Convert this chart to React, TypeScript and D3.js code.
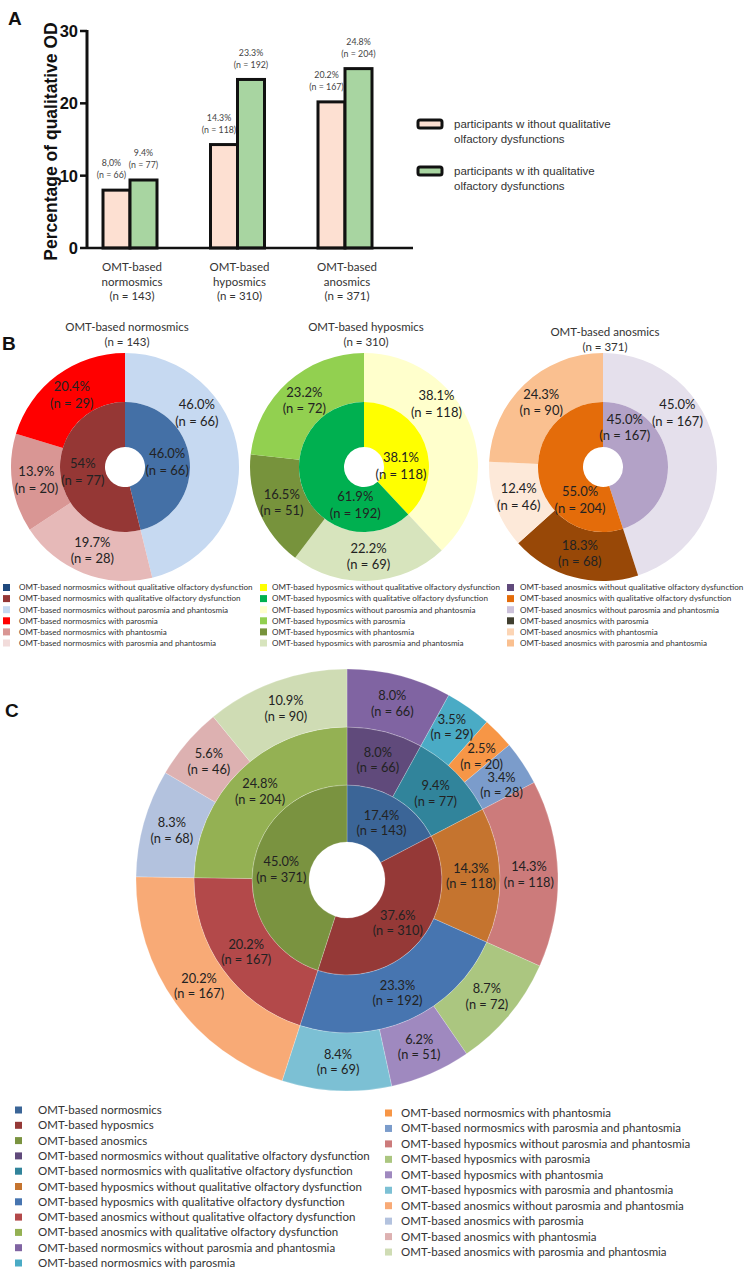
import React from "react";
import * as d3 from "d3";

// ---------------- Panel A data ----------------
const aCategories = ["normosmics", "hyposmics", "anosmics"];
const aCategoryLines = [
  ["OMT-based", "normosmics", "(n = 143)"],
  ["OMT-based", "hyposmics", "(n = 310)"],
  ["OMT-based", "anosmics", "(n = 371)"],
];
const aWithoutQual = [8.0, 14.3, 20.2];
const aWithQual = [9.4, 23.3, 24.8];
const aWithoutLabel = ["8,0%", "14.3%", "20.2%"];
const aWithLabel = ["9.4%", "23.3%", "24.8%"];
const aWithoutN = [66, 118, 167];
const aWithN = [77, 192, 204];
const aYTicks = [0, 10, 20, 30];
const aLegend = [
  ["participants w ithout qualitative", "olfactory dysfunctions"],
  ["participants w ith qualitative", "olfactory dysfunctions"],
];
const aColors = ["#fde0d2", "#a8d5a1"];

// ---------------- Panel B data ----------------
const bTitles = ["OMT-based normosmics", "OMT-based hyposmics", "OMT-based anosmics"];
const bTotals = [143, 310, 371];
const bInnerN = [[66, 77], [118, 192], [167, 204]];
const bInnerPct = [["46.0%", "54%"], ["38.1%", "61.9%"], ["45.0%", "55.0%"]];
const bInnerColors = [["#4470a6", "#953735"], ["#ffff00", "#00b050"], ["#b3a2c7", "#e46c0a"]];
const bOuterN = [[66, 28, 20, 29], [118, 69, 51, 72], [167, 68, 46, 90]];
const bOuterPct = [
  ["46.0%", "19.7%", "13.9%", "20.4%"],
  ["38.1%", "22.2%", "16.5%", "23.2%"],
  ["45.0%", "18.3%", "12.4%", "24.3%"],
];
const bOuterColors = [
  ["#c6d9f1", "#e6b9b8", "#d99694", "#ff0000"],
  ["#ffffcc", "#d7e4bd", "#77933c", "#92d050"],
  ["#e5e0ec", "#984807", "#fde9d9", "#fac090"],
];
const bLegendLabels = [
  [
    "OMT-based normosmics without qualitative olfactory dysfunction",
    "OMT-based normosmics with qualitative olfactory dysfunction",
    "OMT-based normosmics without parosmia and phantosmia",
    "OMT-based normosmics with parosmia",
    "OMT-based normosmics with phantosmia",
    "OMT-based normosmics with parosmia and phantosmia",
  ],
  [
    "OMT-based hyposmics without qualitative olfactory dysfunction",
    "OMT-based hyposmics with qualitative olfactory dysfunction",
    "OMT-based hyposmics without parosmia and phantosmia",
    "OMT-based hyposmics with parosmia",
    "OMT-based hyposmics with phantosmia",
    "OMT-based hyposmics with parosmia and phantosmia",
  ],
  [
    "OMT-based anosmics without qualitative olfactory dysfunction",
    "OMT-based anosmics with qualitative olfactory dysfunction",
    "OMT-based anosmics without parosmia and phantosmia",
    "OMT-based anosmics with parosmia",
    "OMT-based anosmics with phantosmia",
    "OMT-based anosmics with parosmia and phantosmia",
  ],
];
const bLegendColors = [
  ["#1f497d", "#953735", "#c6d9f1", "#ff0000", "#d99694", "#f2dcdb"],
  ["#ffff00", "#00b050", "#ffffcc", "#92d050", "#77933c", "#d7e4bd"],
  ["#604a7b", "#e46c0a", "#ccc1da", "#403f2f", "#fcd5b5", "#fac090"],
];
// label placement overrides (polar: degrees clockwise from top, radius)
const bLabelPlacement: Record<string, [number, number]> = {
  "0-outer-0": [53, 90],
  "1-inner-0": [88, 37],
  "1-inner-1": [193, 39],
  "1-outer-0": [49, 96],
  "2-inner-0": [29, 45],
  "2-inner-1": [215, 40],
  "2-outer-0": [54, 92],
};

// ---------------- Panel C data ----------------
const cL1Names = ["OMT-based normosmics", "OMT-based hyposmics", "OMT-based anosmics"];
const cL1N = [143, 310, 371];
const cL1Pct = ["17.4%", "37.6%", "45.0%"];
const cL1Colors = ["#3b6597", "#953937", "#7a9340"];
const cL2Names = [
  "OMT-based normosmics without qualitative olfactory dysfunction",
  "OMT-based normosmics with qualitative olfactory dysfunction",
  "OMT-based hyposmics without  qualitative olfactory dysfunction",
  "OMT-based hyposmics with qualitative olfactory dysfunction",
  "OMT-based anosmics without  qualitative olfactory dysfunction",
  "OMT-based anosmics with qualitative olfactory dysfunction",
];
const cL2N = [66, 77, 118, 192, 167, 204];
const cL2Pct = ["8.0%", "9.4%", "14.3%", "23.3%", "20.2%", "24.8%"];
const cL2Colors = ["#604a7b", "#31849b", "#c5742f", "#4775b0", "#b3494a", "#94b153"];
const cL3Names = [
  "OMT-based normosmics without parosmia and phantosmia",
  "OMT-based normosmics with parosmia",
  "OMT-based normosmics with phantosmia",
  "OMT-based normosmics with parosmia and phantosmia",
  "OMT-based hyposmics without  parosmia and phantosmia",
  "OMT-based hyposmics with parosmia",
  "OMT-based hyposmics with phantosmia",
  "OMT-based hyposmics with parosmia and phantosmia",
  "OMT-based anosmics without  parosmia and phantosmia",
  "OMT-based anosmics with parosmia",
  "OMT-based anosmics with phantosmia",
  "OMT-based anosmics with parosmia and phantosmia",
];
const cL3N = [66, 29, 20, 28, 118, 72, 51, 69, 167, 68, 46, 90];
const cL3Pct = ["8.0%", "3.5%", "2.5%", "3.4%", "14.3%", "8.7%", "6.2%", "8.4%", "20.2%", "8.3%", "5.6%", "10.9%"];
const cL3Colors = [
  "#8064a2", "#4aabc5", "#f79646", "#7b9ccb",
  "#cc7b7b", "#abc680", "#9f89bf", "#7cc0d4",
  "#f8aa76", "#b3c2de", "#ddb1b1", "#cfdcb4",
];
// small label nudges (dx, dy) for crowded slices, keyed "level-index"
const cLabelNudge: Record<string, [number, number]> = {
  "2-1": [0, -4],
  "2-2": [4, 3],
  "2-3": [3, 6],
};

const W = 749;
const H = 1271;
const calibri = "Lato, 'Open Sans', 'Noto Sans', sans-serif";
const arial = "'Liberation Sans', Arial, Helvetica, sans-serif";

function PanelA() {
  const y = d3.scaleLinear().domain([0, 30]).range([248, 31]);
  const x = d3.scalePoint<string>().domain(aCategories).range([130, 345]);
  const bw = 27;
  const axisX = 87;
  return (
    <g>
      <text x={8} y={25} fontFamily={arial} fontWeight="bold" fontSize={19} fill="#111">A</text>
      <text
        transform={`translate(57,${(y(0) + y(30)) / 2 + 2}) rotate(-90)`}
        textAnchor="middle"
        fontFamily={arial}
        fontWeight="bold"
        fontSize={17.5}
        fill="#111"
      >
        Percentage of qualitative OD
      </text>
      {aYTicks.map((t) => (
        <g key={t}>
          <line x1={axisX - 7} x2={axisX} y1={y(t)} y2={y(t)} stroke="#111" strokeWidth={2.5} />
          <text x={axisX - 9} y={y(t)} dy="0.36em" textAnchor="end" fontFamily={arial} fontWeight="bold" fontSize={16.5} fill="#111">
            {t}
          </text>
        </g>
      ))}
      {aCategories.map((c, i) => {
        const cx = x(c) as number;
        return (
          <g key={c}>
            <rect x={cx - bw} y={y(aWithoutQual[i])} width={bw} height={y(0) - y(aWithoutQual[i])} fill={aColors[0]} stroke="#111" strokeWidth={3} />
            <rect x={cx} y={y(aWithQual[i])} width={bw} height={y(0) - y(aWithQual[i])} fill={aColors[1]} stroke="#111" strokeWidth={3} />
            <g fontFamily={calibri} fontSize={8.8} fill="#444" textAnchor="middle">
              <text x={cx - bw / 2 - 5} y={y(aWithoutQual[i]) - 27} dy="0.35em">{aWithoutLabel[i]}</text>
              <text x={cx - bw / 2 - 5} y={y(aWithoutQual[i]) - 15} dy="0.35em">{`(n = ${aWithoutN[i]})`}</text>
              <text x={cx + bw / 2} y={y(aWithQual[i]) - 27} dy="0.35em">{aWithLabel[i]}</text>
              <text x={cx + bw / 2} y={y(aWithQual[i]) - 15} dy="0.35em">{`(n = ${aWithN[i]})`}</text>
            </g>
            <g fontFamily={calibri} fontSize={11.5} fill="#333" textAnchor="middle">
              {aCategoryLines[i].map((ln, j) => (
                <text key={j} x={cx + 2} y={267 + j * 14.5} dy="0.35em">{ln}</text>
              ))}
            </g>
          </g>
        );
      })}
      <line x1={axisX} x2={axisX} y1={y(30) - 1} y2={y(0) + 1} stroke="#111" strokeWidth={3} />
      <line x1={axisX} x2={413} y1={y(0)} y2={y(0)} stroke="#111" strokeWidth={2.5} />
      {aLegend.map((lines, i) => (
        <g key={i}>
          <rect x={418} y={120 + i * 47} width={24} height={8} rx={2} fill={aColors[i]} stroke="#111" strokeWidth={3} />
          {lines.map((ln, j) => (
            <text key={j} x={454} y={124 + i * 47 + j * 15} dy="0.35em" fontFamily={arial} fontSize={11.5} fill="#333">
              {ln}
            </text>
          ))}
        </g>
      ))}
    </g>
  );
}

function TwoLineLabel({ x, y, a, b, size, gap }: { x: number; y: number; a: string; b: string; size: number; gap: number }) {
  return (
    <g fontFamily={calibri} fontSize={size} fill="#222" textAnchor="middle">
      <text x={x} y={y - gap / 2} dy="0.35em">{a}</text>
      <text x={x} y={y + gap / 2} dy="0.35em">{b}</text>
    </g>
  );
}

function PanelB() {
  const cx = d3.scalePoint<string>().domain(bTitles).range([125, 603]);
  const cy = 467;
  const rHole = 20, rMid = 65, rOut = 114;
  const pie = d3.pie<number>().sort(null).value((d) => d);
  const innerArc = d3.arc<d3.PieArcDatum<number>>().innerRadius(rHole).outerRadius(rMid);
  const outerArc = d3.arc<d3.PieArcDatum<number>>().innerRadius(rMid).outerRadius(rOut);
  const titleY = [327, 327, 332];
  const legendCols = [3, 260, 507];
  const legendTextX = [19, 272, 520];
  const labelPos = (key: string, arc: any, d: any): [number, number] => {
    const o = bLabelPlacement[key];
    if (o) {
      const a = (o[0] * Math.PI) / 180;
      return [o[1] * Math.sin(a), -o[1] * Math.cos(a)];
    }
    return arc.centroid(d);
  };
  return (
    <g>
      <text x={2} y={350} fontFamily={arial} fontWeight="bold" fontSize={19} fill="#111">B</text>
      {bTitles.map((t, k) => {
        const x0 = cx(t) as number;
        const inner = pie(bInnerN[k]);
        const outer = pie(bOuterN[k]);
        return (
          <g key={t}>
            <g fontFamily={calibri} fontSize={11.5} fill="#333" textAnchor="middle">
              <text x={x0 + 2} y={titleY[k]} dy="0.35em">{t}</text>
              <text x={x0 + 2} y={titleY[k] + 15} dy="0.35em">{`(n = ${bTotals[k]})`}</text>
            </g>
            <g transform={`translate(${x0},${cy})`}>
              {outer.map((d, i) => (
                <path key={"o" + i} d={outerArc(d) as string} fill={bOuterColors[k][i]} />
              ))}
              {inner.map((d, i) => (
                <path key={"i" + i} d={innerArc(d) as string} fill={bInnerColors[k][i]} />
              ))}
              {outer.map((d, i) => {
                const [lx, ly] = labelPos(`${k}-outer-${i}`, outerArc, d);
                return <TwoLineLabel key={"ol" + i} x={lx} y={ly} a={bOuterPct[k][i]} b={`(n = ${bOuterN[k][i]})`} size={13} gap={16.5} />;
              })}
              {inner.map((d, i) => {
                const [lx, ly] = labelPos(`${k}-inner-${i}`, innerArc, d);
                return <TwoLineLabel key={"il" + i} x={lx} y={ly} a={bInnerPct[k][i]} b={`(n = ${bInnerN[k][i]})`} size={13} gap={16.5} />;
              })}
            </g>
            {bLegendLabels[k].map((lab, i) => (
              <g key={"lg" + i}>
                <rect x={legendCols[k]} y={587.5 + i * 11.1 - 3.5} width={7} height={7} fill={bLegendColors[k][i]} />
                <text x={legendTextX[k]} y={587.5 + i * 11.1} dy="0.35em" fontFamily={calibri} fontSize={8.1} fill="#333">
                  {lab}
                </text>
              </g>
            ))}
          </g>
        );
      })}
    </g>
  );
}

function PanelC() {
  const cx = 347, cy = 880;
  const radii = [38, 95, 153, 211];
  const pie = d3.pie<number>().sort(null).value((d) => d);
  const levels = [
    { n: cL1N, pct: cL1Pct, colors: cL1Colors },
    { n: cL2N, pct: cL2Pct, colors: cL2Colors },
    { n: cL3N, pct: cL3Pct, colors: cL3Colors },
  ];
  const legendLeft = [
    ...cL1Names.map((n, i) => [n, cL1Colors[i]]),
    ...cL2Names.map((n, i) => [n, cL2Colors[i]]),
    ...cL3Names.slice(0, 2).map((n, i) => [n, cL3Colors[i]]),
  ];
  const legendRight = cL3Names.slice(2).map((n, i) => [n, cL3Colors[i + 2]]);
  return (
    <g>
      <text x={5} y={717} fontFamily={arial} fontWeight="bold" fontSize={19} fill="#111">C</text>
      <g transform={`translate(${cx},${cy})`}>
        {levels.map((lv, li) => {
          const arc = d3.arc<d3.PieArcDatum<number>>().innerRadius(radii[li]).outerRadius(radii[li + 1]);
          const arcs = pie(lv.n);
          return (
            <g key={li}>
              {arcs.map((d, i) => (
                <path key={i} d={arc(d) as string} fill={lv.colors[i]} stroke="#ffffff" strokeOpacity={0.35} strokeWidth={0.6} />
              ))}
              {arcs.map((d, i) => {
                const [lx, ly] = arc.centroid(d);
                const nd = cLabelNudge[`${li}-${i}`] || [0, 0];
                return <TwoLineLabel key={"l" + i} x={lx + nd[0]} y={ly + nd[1]} a={lv.pct[i]} b={`(n = ${lv.n[i]})`} size={12.8} gap={15.5} />;
              })}
            </g>
          );
        })}
      </g>
      {legendLeft.map(([name, col], i) => (
        <g key={"ll" + i}>
          <rect x={15} y={1110 + i * 15.3 - 3.5} width={7} height={7} fill={col} />
          <text x={38} y={1110 + i * 15.3} dy="0.35em" fontFamily={calibri} fontSize={11.5} fill="#333">{name}</text>
        </g>
      ))}
      {legendRight.map(([name, col], i) => (
        <g key={"lr" + i}>
          <rect x={385} y={1113 + i * 15.45 - 3.5} width={7} height={7} fill={col} />
          <text x={401} y={1113 + i * 15.45} dy="0.35em" fontFamily={calibri} fontSize={11.5} fill="#333">{name}</text>
        </g>
      ))}
    </g>
  );
}

export default function App() {
  return (
    <div style={{ position: "absolute", left: 0, top: 0, width: W, height: H, background: "#fff" }}>
      <svg width={W} height={H} viewBox={`0 0 ${W} ${H}`} style={{ display: "block" }}>
        <rect width={W} height={H} fill="#fff" />
        <PanelA />
        <PanelB />
        <PanelC />
      </svg>
    </div>
  );
}
